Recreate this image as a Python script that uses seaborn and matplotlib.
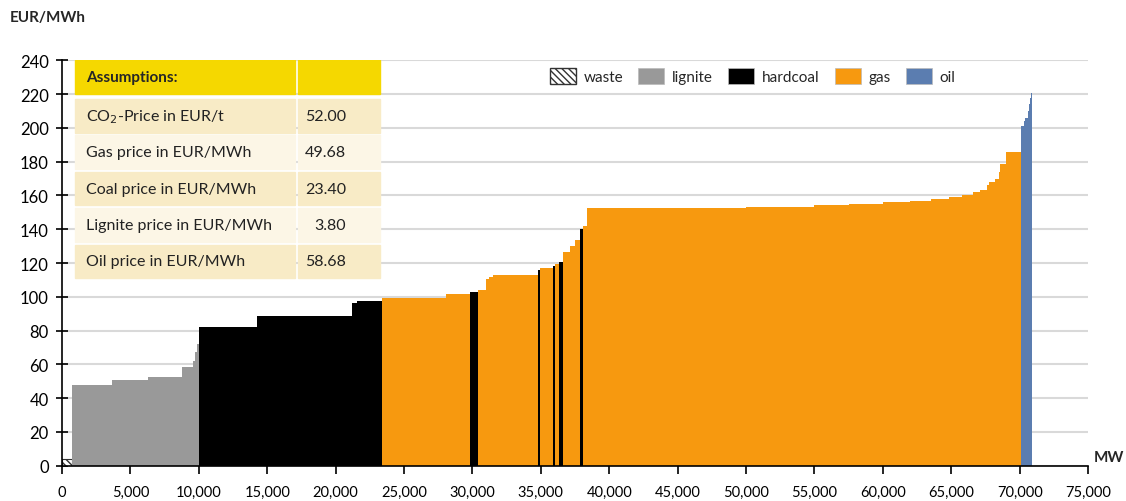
import matplotlib
matplotlib.use("Agg")
import matplotlib.pyplot as plt
import matplotlib.patches as mpatches
from matplotlib.ticker import FuncFormatter
import seaborn as sns
import numpy as np
import pandas as pd

# merit order blocks: fuel type, capacity (MW), marginal cost (EUR/MWh)
fuel = (["waste"]
        + ["lignite"] * 7
        + ["hardcoal"] * 4
        + ["gas"] * 2 + ["hardcoal"]
        + ["gas"] * 4 + ["hardcoal"] + ["gas"] + ["hardcoal"] + ["gas"] + ["hardcoal"]
        + ["gas"] * 3 + ["hardcoal"]
        + ["gas"] * 18
        + ["oil"] * 7)
capacity = [750,
            2880, 2680, 2440, 850, 150, 140, 110,
            4230, 6940, 360, 1880,
            4650, 1760, 610,
            560, 210, 320, 3290, 150, 950, 140, 300, 240,
            530, 380, 360, 240,
            240, 11660, 5000, 2500, 2500, 2000, 1500, 1300, 1000, 800, 500, 500,
            150, 440, 290, 70, 440, 1140,
            170, 120, 160, 100, 80, 60, 50]
price = [4,
         48, 50.5, 52.5, 58.5, 62, 67, 72,
         82, 88.3, 96.5, 97.7,
         99.2, 101.5, 103,
         104.2, 110.5, 112, 113, 116, 117, 118.5, 119.5, 120.5,
         126.5, 130, 133.5, 140,
         142, 152.3, 153, 154.5, 155.2, 156.2, 157, 158, 159.3, 160.5, 161.8, 163.5,
         166, 168, 170, 174, 178.7, 186,
         201, 204, 206, 210, 214, 218, 221]

fuel_order = ["waste", "lignite", "hardcoal", "gas", "oil"]
fuel_colors = {"waste": "white", "lignite": "#999999", "hardcoal": "#000000",
               "gas": "#F7990F", "oil": "#5B7DB0"}

table_labels = ["CO$_2$-Price in EUR/t", "Gas price in EUR/MWh", "Coal price in EUR/MWh",
                "Lignite price in EUR/MWh", "Oil price in EUR/MWh"]
table_values = ["52.00", "49.68", "23.40", "3.80", "58.68"]

sns.set_theme(style="white")
plt.rcParams["font.family"] = ["Lato", "DejaVu Sans"]

edges = np.concatenate([[0], np.cumsum(capacity)])
df = pd.DataFrame({"fuel": fuel,
                   "center": (edges[:-1] + edges[1:]) / 2,
                   "price": np.array(price, dtype=float)})
bin_edges = [float(e) for e in edges]

fig = plt.figure(figsize=(11.26, 5.02), dpi=100)
ax = fig.add_axes([0.0551, 0.0707, 0.9112, 0.8068])

for f in fuel_order:
    sub = df[df["fuel"] == f]
    kw = dict(linewidth=0, antialiased=False)
    if f == "waste":
        kw = dict(linewidth=0.8, edgecolor="#333333", hatch="\\\\\\\\\\")
    sns.histplot(data=sub, x="center", weights="price", bins=bin_edges, ax=ax,
                 color=fuel_colors[f], alpha=1, zorder=3, **kw)

ax.set_xlim(0, 75000)
ax.set_ylim(0, 240)
ax.set_xticks(np.arange(0, 75001, 5000))
ax.set_yticks(np.arange(0, 241, 20))
ax.xaxis.set_major_formatter(FuncFormatter(lambda v, p: f"{v:,.0f}"))
ax.set_xlabel("")
ax.set_ylabel("")
ax.grid(axis="y", color="#D9D9D9", linewidth=1.5, zorder=0)
ax.set_axisbelow(True)
for s in ["top", "right"]:
    ax.spines[s].set_visible(False)
for s in ["left", "bottom"]:
    ax.spines[s].set_color("black")
    ax.spines[s].set_linewidth(1.2)
    ax.spines[s].set_zorder(5)
ax.tick_params(axis="y", which="major", direction="inout", length=9, width=1.2,
               left=True, labelsize=12, pad=5, colors="black")
ax.tick_params(axis="x", which="major", direction="out", length=6, width=1.2,
               bottom=True, labelsize=10.5, pad=8, colors="black")

# assumptions table
x0, xm, xm2, x1 = 950, 17030, 17250, 23240
ax.add_patch(mpatches.Rectangle((x0, 220.3), xm - x0, 19.7, color="#F5D800", zorder=6))
ax.add_patch(mpatches.Rectangle((xm2, 220.3), x1 - xm2, 19.7, color="#F5D800", zorder=6))
ax.text(1750, 230, "Assumptions:", fontsize=11, fontweight="bold", va="center", zorder=7)
for i, (lab, val) in enumerate(zip(table_labels, table_values)):
    top = 217.3 - 21.6 * i
    col = "#F8EBC6" if i % 2 == 0 else "#FCF6E6"
    ax.add_patch(mpatches.Rectangle((x0, top - 20), xm - x0, 20, color=col, zorder=6))
    ax.add_patch(mpatches.Rectangle((xm2, top - 20), x1 - xm2, 20, color=col, zorder=6))
    ax.text(1750, top - 10, lab, fontsize=11.5, va="center", color="#222222", zorder=7)
    ax.text(20750, top - 10, val, fontsize=11.5, va="center", ha="right", color="#222222", zorder=7)

# legend
handles = []
for f in fuel_order:
    if f == "waste":
        handles.append(mpatches.Patch(facecolor="white", edgecolor="#333333",
                                      hatch="\\\\\\\\\\", label=f))
    else:
        handles.append(mpatches.Patch(facecolor=fuel_colors[f], edgecolor="#BBBBBB",
                                      linewidth=0.5, label=f))
ax.legend(handles=handles, ncol=5, loc="center", bbox_to_anchor=(0.673, 0.962),
          frameon=False, fontsize=11, handlelength=1.7, handleheight=1.3,
          handletextpad=0.5, columnspacing=1.0)

fig.text(10 / 1126, 1 - 18 / 502, "EUR/MWh", fontsize=11, fontweight="bold",
         va="center", ha="left")
fig.text(1094 / 1126, 1 - 458 / 502, "MW", fontsize=11, fontweight="bold",
         va="center", ha="left")

fig.savefig("out.png", dpi=100)
